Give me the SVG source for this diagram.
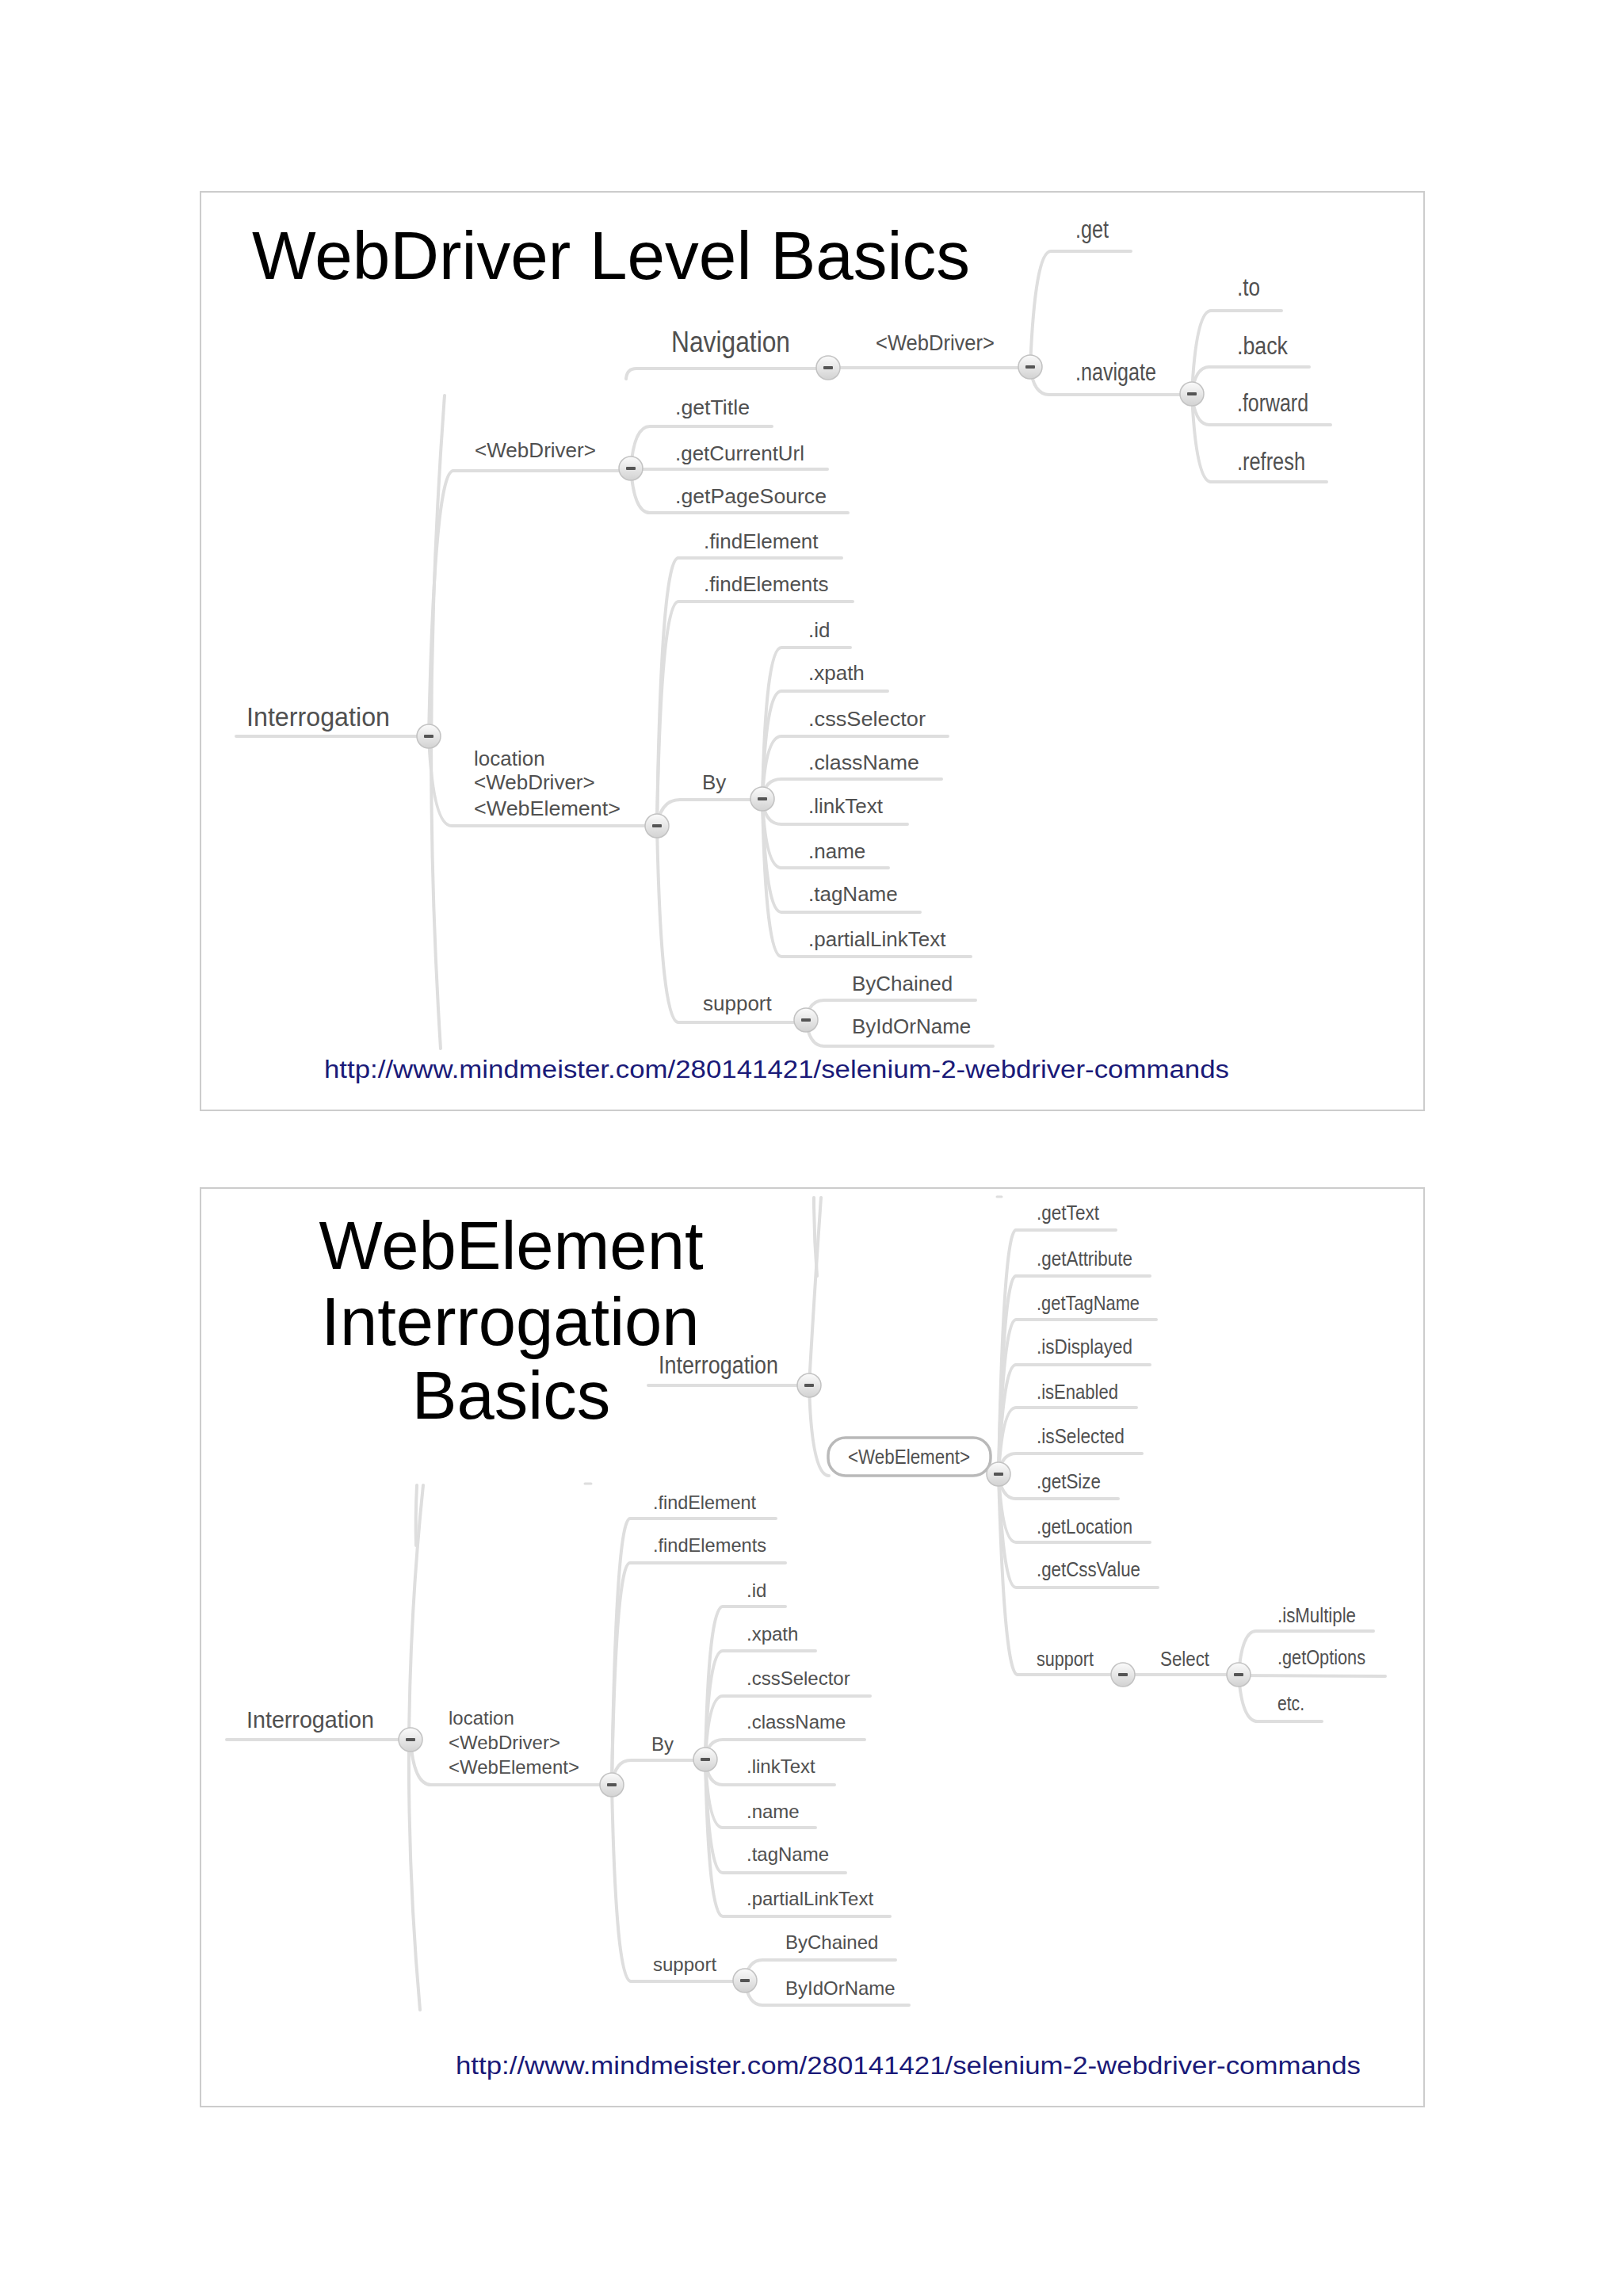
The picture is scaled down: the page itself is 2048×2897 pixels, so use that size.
<svg xmlns="http://www.w3.org/2000/svg" xmlns:xlink="http://www.w3.org/1999/xlink" width="2048" height="2897" viewBox="0 0 2048 2897">
<style>
.t{font-family:"Liberation Sans",Arial,sans-serif;fill:#505050}
.s26{font-size:26px}.s24{font-size:24px}.s22{font-size:22px}
.n{font-size:31px}.m{font-size:25px}
.title{font-family:"Liberation Sans",Arial,sans-serif;fill:#000;font-size:86px}
.url{font-family:"Liberation Sans",Arial,sans-serif;fill:#1a1a78;font-size:31px}
.c{fill:none;stroke:#dedede;stroke-width:4;stroke-linecap:round}
.frame{fill:#fff;stroke:#cccccc;stroke-width:2}
.pill{fill:#fff;stroke:#b9b9b9;stroke-width:3.5}
</style>
<defs>
<linearGradient id="bg" x1="0" y1="0" x2="0" y2="1">
<stop offset="0" stop-color="#fbfbfb"/><stop offset="1" stop-color="#d2d2d2"/>
</linearGradient>
<g id="btn"><circle r="15" fill="url(#bg)" stroke="#c2c2c2" stroke-width="1.5"/><rect x="-6" y="-2" width="12" height="4" rx="1" fill="#555"/></g>
</defs>
<rect width="2048" height="2897" fill="#fff"/>
<rect class="frame" x="253" y="242" width="1544" height="1159"/>
<rect class="frame" x="253" y="1499" width="1544" height="1159"/>

<g id="connectors">
<!-- slide 1 -->
<path class="c" d="M298 929 L541 929"/>
<path class="c" d="M561 499 Q530 915 556 1323"/>
<path class="c" d="M541 929 Q548 594 572 594 L796 594"/>
<path class="c" d="M541 929 Q546 1042 570 1042 L829 1042"/>
<path class="c" d="M796 591 Q800 538 820 538 L974 538"/>
<path class="c" d="M796 592 L1044 592"/>
<path class="c" d="M796 591 Q800 647 820 647 L1070 647"/>
<path class="c" d="M829 1042 Q834 704 856 704 L1062 704"/>
<path class="c" d="M829 1042 Q834 759 856 759 L1076 759"/>
<path class="c" d="M829 1042 Q834 1009 858 1009 L962 1009"/>
<path class="c" d="M829 1042 Q834 1290 856 1290 L1017 1290"/>
<path class="c" d="M962 1008 Q966 817 986 817 L1073 817"/>
<path class="c" d="M962 1008 Q966 872 986 872 L1120 872"/>
<path class="c" d="M962 1008 Q966 929 986 929 L1196 929"/>
<path class="c" d="M962 1008 Q965 983 986 983 L1188 983"/>
<path class="c" d="M962 1008 Q965 1040 986 1040 L1145 1040"/>
<path class="c" d="M962 1008 Q966 1095 986 1095 L1121 1095"/>
<path class="c" d="M962 1008 Q966 1151 986 1151 L1161 1151"/>
<path class="c" d="M962 1008 Q966 1207 986 1207 L1225 1207"/>
<path class="c" d="M1017 1287 Q1021 1262 1040 1262 L1231 1262"/>
<path class="c" d="M1017 1287 Q1021 1320 1040 1320 L1253 1320"/>
<path class="c" d="M790 478 Q791 465 803 465 L1045 465"/>
<path class="c" d="M1045 464 L1300 464"/>
<path class="c" d="M1300 463 Q1306 317 1326 317 L1427 317"/>
<path class="c" d="M1300 463 Q1304 498 1324 498 L1504 498"/>
<path class="c" d="M1504 497 Q1509 392 1528 392 L1617 392"/>
<path class="c" d="M1504 497 Q1508 463 1526 463 L1652 463"/>
<path class="c" d="M1504 497 Q1508 536 1526 536 L1679 536"/>
<path class="c" d="M1504 497 Q1509 608 1528 608 L1674 608"/>
<!-- slide 2 upper -->
<path class="c" d="M818 1748 L1021 1748"/>
<path class="c" d="M1036 1511 Q1027 1640 1021 1748"/>
<path class="c" d="M1027 1511 Q1027 1560 1031 1610"/>
<path class="c" d="M1021 1748 Q1024 1862 1046 1862"/>
<path class="c" d="M1260 1860 Q1266 1552 1282 1552 L1408 1552"/>
<path class="c" d="M1260 1860 Q1266 1610 1282 1610 L1451 1610"/>
<path class="c" d="M1260 1860 Q1266 1665 1282 1665 L1459 1665"/>
<path class="c" d="M1260 1860 Q1266 1722 1282 1722 L1451 1722"/>
<path class="c" d="M1260 1860 Q1265 1776 1282 1776 L1434 1776"/>
<path class="c" d="M1260 1860 Q1264 1834 1282 1834 L1441 1834"/>
<path class="c" d="M1260 1860 Q1264 1891 1282 1891 L1411 1891"/>
<path class="c" d="M1260 1860 Q1265 1946 1282 1946 L1451 1946"/>
<path class="c" d="M1260 1860 Q1266 2003 1282 2003 L1461 2003"/>
<path class="c" d="M1260 1860 Q1267 2113 1284 2113 L1417 2113"/>
<path class="c" d="M1417 2113 L1563 2113"/>
<path class="c" d="M1563 2113 Q1567 2058 1585 2058 L1733 2058"/>
<path class="c" d="M1563 2114 L1748 2115"/>
<path class="c" d="M1563 2113 Q1567 2172 1587 2172 L1668 2172"/>
<path class="c" d="M1258 1510 L1264 1510" style="stroke-width:3"/>
<!-- slide 2 lower -->
<path class="c" d="M286 2195 L518 2195"/>
<path class="c" d="M534 1874 Q500 2200 530 2536"/>
<path class="c" d="M526 1874 Q524 1915 525 1950"/>
<path class="c" d="M518 2195 Q522 2252 544 2252 L772 2252"/>
<path class="c" d="M772 2252 Q777 1916 795 1916 L979 1916"/>
<path class="c" d="M772 2252 Q777 1972 795 1972 L991 1972"/>
<path class="c" d="M772 2252 Q776 2221 796 2221 L890 2221"/>
<path class="c" d="M772 2252 Q777 2500 796 2500 L940 2500"/>
<path class="c" d="M890 2220 Q894 2027 912 2027 L991 2027"/>
<path class="c" d="M890 2220 Q894 2083 912 2083 L1029 2083"/>
<path class="c" d="M890 2220 Q894 2140 912 2140 L1098 2140"/>
<path class="c" d="M890 2220 Q893 2195 912 2195 L1091 2195"/>
<path class="c" d="M890 2220 Q893 2252 912 2252 L1053 2252"/>
<path class="c" d="M890 2220 Q894 2306 912 2306 L1029 2306"/>
<path class="c" d="M890 2220 Q894 2363 912 2363 L1067 2363"/>
<path class="c" d="M890 2220 Q894 2418 912 2418 L1123 2418"/>
<path class="c" d="M940 2499 Q944 2473 962 2473 L1130 2473"/>
<path class="c" d="M940 2499 Q944 2530 962 2530 L1147 2530"/>
<path class="c" d="M738 1872 L746 1872" style="stroke-width:3"/>
</g>

<!-- slide 1 nodes -->
<g id="title1"><text class="title" x="318" y="352" textLength="906" lengthAdjust="spacingAndGlyphs">WebDriver Level Basics</text></g>
<g id="s1-interrogation"><text class="t" x="311" y="916" font-size="33" textLength="181" lengthAdjust="spacingAndGlyphs">Interrogation</text><use href="#btn" x="541" y="929"/></g>
<g id="s1-webdriver"><text class="t s26" x="599" y="577" textLength="153" lengthAdjust="spacingAndGlyphs">&lt;WebDriver&gt;</text><use href="#btn" x="796" y="591"/></g>
<g id="s1-getTitle"><text class="t s26" x="852" y="523" textLength="94" lengthAdjust="spacingAndGlyphs">.getTitle</text></g>
<g id="s1-getCurrentUrl"><text class="t s26" x="852" y="581" textLength="163" lengthAdjust="spacingAndGlyphs">.getCurrentUrl</text></g>
<g id="s1-getPageSource"><text class="t s26" x="852" y="635" textLength="191" lengthAdjust="spacingAndGlyphs">.getPageSource</text></g>
<g id="s1-location"><text class="t s26" x="598" y="966">location</text><text class="t s26" x="598" y="996">&lt;WebDriver&gt;</text><text class="t s26" x="598" y="1029" textLength="185" lengthAdjust="spacingAndGlyphs">&lt;WebElement&gt;</text><use href="#btn" x="829" y="1042"/></g>
<g id="s1-findElement"><text class="t s26" x="888" y="692">.findElement</text></g>
<g id="s1-findElements"><text class="t s26" x="888" y="746">.findElements</text></g>
<g id="s1-by"><text class="t s26" x="886" y="996">By</text><use href="#btn" x="962" y="1008"/></g>
<g id="s1-id"><text class="t s26" x="1020" y="804">.id</text></g>
<g id="s1-xpath"><text class="t s26" x="1020" y="858">.xpath</text></g>
<g id="s1-cssSelector"><text class="t s26" x="1020" y="916" textLength="148" lengthAdjust="spacingAndGlyphs">.cssSelector</text></g>
<g id="s1-className"><text class="t s26" x="1020" y="971" textLength="140" lengthAdjust="spacingAndGlyphs">.className</text></g>
<g id="s1-linkText"><text class="t s26" x="1020" y="1026">.linkText</text></g>
<g id="s1-name"><text class="t s26" x="1020" y="1083">.name</text></g>
<g id="s1-tagName"><text class="t s26" x="1020" y="1137">.tagName</text></g>
<g id="s1-partialLinkText"><text class="t s26" x="1020" y="1194">.partialLinkText</text></g>
<g id="s1-support"><text class="t s26" x="887" y="1275">support</text><use href="#btn" x="1017" y="1287"/></g>
<g id="s1-byChained"><text class="t s26" x="1075" y="1250">ByChained</text></g>
<g id="s1-byIdOrName"><text class="t s26" x="1075" y="1304">ByIdOrName</text></g>
<g id="s1-navigation"><text class="t" x="847" y="444" font-size="37" textLength="150" lengthAdjust="spacingAndGlyphs">Navigation</text><use href="#btn" x="1045" y="464"/></g>
<g id="s1-nav-webdriver"><text class="t" x="1105" y="442" font-size="27" textLength="150" lengthAdjust="spacingAndGlyphs">&lt;WebDriver&gt;</text><use href="#btn" x="1300" y="463"/></g>
<g id="s1-get"><text class="t n" x="1357" y="300" textLength="42" lengthAdjust="spacingAndGlyphs">.get</text></g>
<g id="s1-navigate"><text class="t n" x="1357" y="480" textLength="102" lengthAdjust="spacingAndGlyphs">.navigate</text><use href="#btn" x="1504" y="497"/></g>
<g id="s1-to"><text class="t n" x="1561" y="373" textLength="29" lengthAdjust="spacingAndGlyphs">.to</text></g>
<g id="s1-back"><text class="t n" x="1561" y="447" textLength="64" lengthAdjust="spacingAndGlyphs">.back</text></g>
<g id="s1-forward"><text class="t n" x="1561" y="519" textLength="90" lengthAdjust="spacingAndGlyphs">.forward</text></g>
<g id="s1-refresh"><text class="t n" x="1561" y="593" textLength="86" lengthAdjust="spacingAndGlyphs">.refresh</text></g>
<g id="url1"><text class="url" x="409" y="1360" textLength="1142" lengthAdjust="spacingAndGlyphs">http://www.mindmeister.com/280141421/selenium-2-webdriver-commands</text></g>

<!-- slide 2 nodes -->
<g id="title2"><text class="title" x="645" y="1601" text-anchor="middle" style="font-size:85px">WebElement</text><text class="title" x="644" y="1697" text-anchor="middle" style="font-size:85px">Interrogation</text><text class="title" x="645" y="1790" text-anchor="middle" style="font-size:85px">Basics</text></g>
<g id="s2-interrogation-top"><text class="t" x="831" y="1733" font-size="31" textLength="151" lengthAdjust="spacingAndGlyphs">Interrogation</text><use href="#btn" x="1021" y="1748"/></g>
<g id="s2-webelement"><rect class="pill" x="1045" y="1814" width="205" height="48" rx="22"/><text class="t" x="1070" y="1847" font-size="25" textLength="154" lengthAdjust="spacingAndGlyphs">&lt;WebElement&gt;</text><use href="#btn" x="1260" y="1860"/></g>
<g id="s2-getText"><text class="t m" x="1308" y="1539" textLength="79" lengthAdjust="spacingAndGlyphs">.getText</text></g>
<g id="s2-getAttribute"><text class="t m" x="1308" y="1597" textLength="121" lengthAdjust="spacingAndGlyphs">.getAttribute</text></g>
<g id="s2-getTagName"><text class="t m" x="1308" y="1653" textLength="130" lengthAdjust="spacingAndGlyphs">.getTagName</text></g>
<g id="s2-isDisplayed"><text class="t m" x="1308" y="1708" textLength="121" lengthAdjust="spacingAndGlyphs">.isDisplayed</text></g>
<g id="s2-isEnabled"><text class="t m" x="1308" y="1765" textLength="103" lengthAdjust="spacingAndGlyphs">.isEnabled</text></g>
<g id="s2-isSelected"><text class="t m" x="1308" y="1821" textLength="111" lengthAdjust="spacingAndGlyphs">.isSelected</text></g>
<g id="s2-getSize"><text class="t m" x="1308" y="1878" textLength="81" lengthAdjust="spacingAndGlyphs">.getSize</text></g>
<g id="s2-getLocation"><text class="t m" x="1308" y="1935" textLength="121" lengthAdjust="spacingAndGlyphs">.getLocation</text></g>
<g id="s2-getCssValue"><text class="t m" x="1308" y="1989" textLength="131" lengthAdjust="spacingAndGlyphs">.getCssValue</text></g>
<g id="s2-support-top"><text class="t m" x="1308" y="2102" textLength="72" lengthAdjust="spacingAndGlyphs">support</text><use href="#btn" x="1417" y="2113"/></g>
<g id="s2-select"><text class="t m" x="1464" y="2102" textLength="62" lengthAdjust="spacingAndGlyphs">Select</text><use href="#btn" x="1563" y="2113"/></g>
<g id="s2-isMultiple"><text class="t m" x="1612" y="2047" textLength="99" lengthAdjust="spacingAndGlyphs">.isMultiple</text></g>
<g id="s2-getOptions"><text class="t m" x="1612" y="2100" textLength="111" lengthAdjust="spacingAndGlyphs">.getOptions</text></g>
<g id="s2-etc"><text class="t m" x="1612" y="2158" textLength="34" lengthAdjust="spacingAndGlyphs">etc.</text></g>
<g id="s2-interrogation"><text class="t" x="311" y="2180" font-size="30" textLength="161" lengthAdjust="spacingAndGlyphs">Interrogation</text><use href="#btn" x="518" y="2195"/></g>
<g id="s2-location"><text class="t s24" x="566" y="2176">location</text><text class="t s24" x="566" y="2207">&lt;WebDriver&gt;</text><text class="t s24" x="566" y="2238">&lt;WebElement&gt;</text><use href="#btn" x="772" y="2252"/></g>
<g id="s2-findElement"><text class="t s24" x="824" y="1904" textLength="130" lengthAdjust="spacingAndGlyphs">.findElement</text></g>
<g id="s2-findElements"><text class="t s24" x="824" y="1958" textLength="143" lengthAdjust="spacingAndGlyphs">.findElements</text></g>
<g id="s2-by"><text class="t s24" x="822" y="2209">By</text><use href="#btn" x="890" y="2220"/></g>
<g id="s2-id"><text class="t s24" x="942" y="2015">.id</text></g>
<g id="s2-xpath"><text class="t s24" x="942" y="2070">.xpath</text></g>
<g id="s2-cssSelector"><text class="t s24" x="942" y="2126">.cssSelector</text></g>
<g id="s2-className"><text class="t s24" x="942" y="2181">.className</text></g>
<g id="s2-linkText"><text class="t s24" x="942" y="2237">.linkText</text></g>
<g id="s2-name"><text class="t s24" x="942" y="2294">.name</text></g>
<g id="s2-tagName"><text class="t s24" x="942" y="2348">.tagName</text></g>
<g id="s2-partialLinkText"><text class="t s24" x="942" y="2404">.partialLinkText</text></g>
<g id="s2-support"><text class="t s24" x="824" y="2487">support</text><use href="#btn" x="940" y="2499"/></g>
<g id="s2-byChained"><text class="t s24" x="991" y="2459">ByChained</text></g>
<g id="s2-byIdOrName"><text class="t s24" x="991" y="2517">ByIdOrName</text></g>
<g id="url2"><text class="url" x="575" y="2617" textLength="1142" lengthAdjust="spacingAndGlyphs">http://www.mindmeister.com/280141421/selenium-2-webdriver-commands</text></g>
</svg>
